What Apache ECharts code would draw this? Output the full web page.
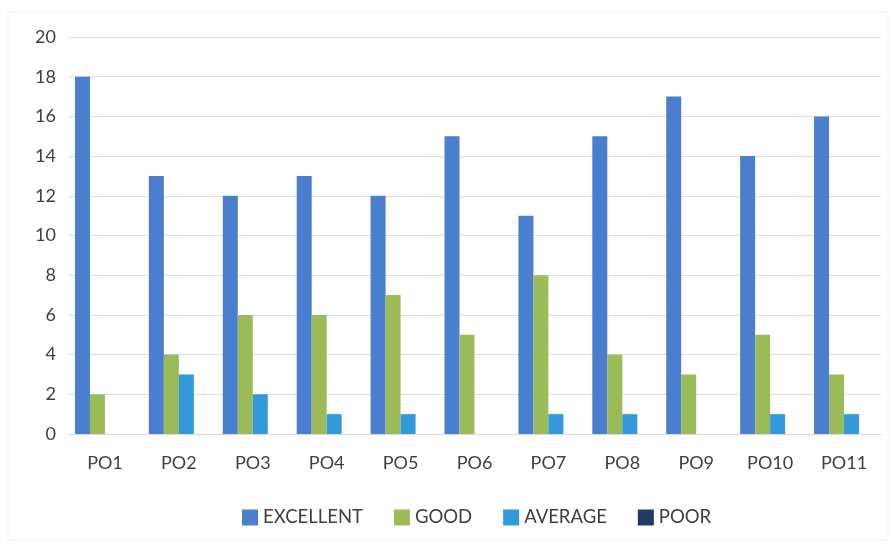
<!DOCTYPE html>
<html><head><meta charset="utf-8">
<script src="https://cdn.jsdelivr.net/npm/echarts@6/dist/echarts.min.js"></script>
<style>html,body{margin:0;padding:0;background:#fff}#c{width:891px;height:544px}</style>
</head><body><div id="c"></div>
<script>
const categories = ['PO1','PO2','PO3','PO4','PO5','PO6','PO7','PO8','PO9','PO10','PO11'];
const excellent = [18,13,12,13,12,15,11,15,17,14,16];
const good = [2,4,6,6,7,5,8,4,3,5,3];
const average = [0,3,2,1,1,0,1,1,0,1,1];
const poor = [0,0,0,0,0,0,0,0,0,0,0];
const yTicks = [0,2,4,6,8,10,12,14,16,18,20];

const chart = echarts.init(document.getElementById('c'));
const font = 'Lato, "Open Sans", sans-serif';
const mk = (name, data, color) => ({name, type:'bar', data, barWidth:15, barGap:'0%', itemStyle:{color}});
chart.setOption({
  animation:false,
  textStyle:{fontFamily:font},
  graphic:[{type:'rect', shape:{x:8,y:12,width:880,height:528}, style:{fill:'none', stroke:'#f2eff6', lineWidth:1}, silent:true}],
  grid:{left:68, right:10, top:37, bottom:110},
  legend:{left:237, top:503, itemWidth:16, itemHeight:16, itemGap:31, icon:'rect',
    textStyle:{fontSize:18.5, color:'#404040', fontFamily:font},
    data:['EXCELLENT','GOOD','AVERAGE','POOR']},
  xAxis:{type:'category', data:categories,
    axisLine:{lineStyle:{color:'#ddd4ea'}}, axisTick:{show:false},
    axisLabel:{fontSize:18, color:'#404040', margin:20, fontFamily:font}},
  yAxis:{type:'value', min:0, max:20, interval:2,
    axisLabel:{fontSize:18, color:'#404040', margin:12, fontFamily:font,
      formatter: v => yTicks.includes(v) ? String(v) : ''},
    splitLine:{lineStyle:{color:'#e2daee'}}, axisLine:{show:false}, axisTick:{show:false}},
  series:[
    mk('EXCELLENT', excellent, '#4a7fcf'),
    mk('GOOD', good, '#9bbb59'),
    mk('AVERAGE', average, '#3399dd'),
    mk('POOR', poor, '#1f3c68')
  ]
});
</script></body></html>
